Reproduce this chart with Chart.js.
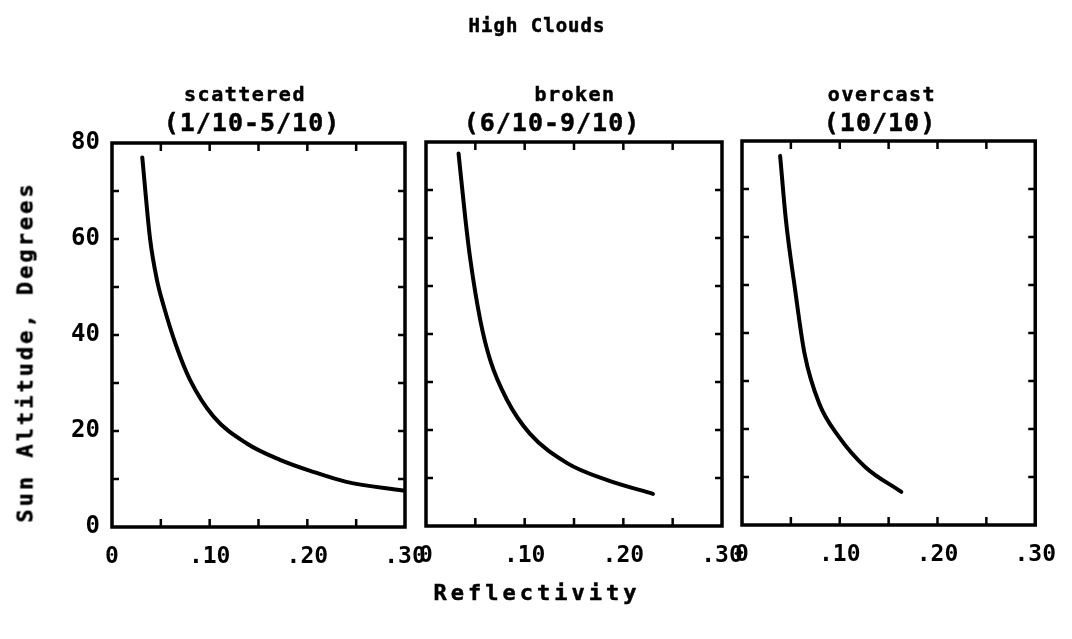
<!DOCTYPE html>
<html>
<head>
<meta charset="utf-8">
<script src="https://cdn.jsdelivr.net/npm/chart.js"></script>
<style>
  body { margin: 0; background: #fff; }
  #wrap { position: relative; width: 1072px; height: 639px; overflow: hidden; }
  #wrap canvas { position: absolute; left: 0; top: 0; }
  .lbl { position: absolute; transform: translate(-50%, -50%); white-space: nowrap;
         font-family: "DejaVu Sans Mono", monospace; font-weight: bold; color: #000;
         -webkit-text-stroke: 0.5px #000; }
</style>
</head>
<body>
<div id="wrap">
  <canvas id="p1" width="1072" height="639"></canvas>
  <canvas id="p2" width="1072" height="639"></canvas>
  <canvas id="p3" width="1072" height="639"></canvas>
  <div class="lbl" style="left:537px;top:25px;font-size:19px;letter-spacing:1px;">High Clouds</div>
  <div class="lbl" style="left:245px;top:94px;font-size:20px;letter-spacing:1.5px;">scattered</div>
  <div class="lbl" style="left:252px;top:122px;font-size:25px;letter-spacing:1px;">(1/10-5/10)</div>
  <div class="lbl" style="left:575px;top:94px;font-size:20px;letter-spacing:1.5px;">broken</div>
  <div class="lbl" style="left:552px;top:122px;font-size:25px;letter-spacing:1px;">(6/10-9/10)</div>
  <div class="lbl" style="left:882px;top:94px;font-size:20px;letter-spacing:1.5px;">overcast</div>
  <div class="lbl" style="left:880px;top:122px;font-size:25px;letter-spacing:1px;">(10/10)</div>
  <div class="lbl" style="left:25px;top:352px;font-size:22px;letter-spacing:3px;transform:translate(-50%,-50%) rotate(-90deg);">Sun Altitude, Degrees</div>
  <div class="lbl" style="left:537px;top:592px;font-size:22px;letter-spacing:4px;">Reflectivity</div>
</div>
<script>
// reflectivity (x) vs sun altitude in degrees (y)
const scatteredX = [0.031, 0.039, 0.046, 0.053, 0.066, 0.080, 0.104, 0.138, 0.172, 0.206, 0.240, 0.298];
const scatteredY = [77, 60, 51.5, 46, 37.6, 30.6, 23, 17.4, 14, 11.5, 9.4, 7.6];
const brokenX = [0.033, 0.040, 0.045, 0.055, 0.065, 0.082, 0.105, 0.143, 0.183, 0.230];
const brokenY = [77.6, 63.8, 55.4, 42.9, 34.6, 26.3, 19.3, 13.1, 9.6, 6.7];
const overcastX = [0.039, 0.045, 0.054, 0.064, 0.079, 0.099, 0.126, 0.163];
const overcastY = [76.9, 63.4, 49.5, 35.7, 25.3, 18.4, 12.1, 6.9];

const xTickValues = [0, 0.1, 0.2, 0.3];
const xTickLabels = ['0', '.10', '.20', '.30'];
const yTickValues = [0, 20, 40, 60, 80];
const yTickLabels = ['0', '20', '40', '60', '80'];

const FONT = '"DejaVu Sans Mono", monospace';

// box round the plot with little ticks pointing inwards
const frameTicks = {
  id: 'frameTicks',
  afterDraw(chart) {
    const { ctx, chartArea: a, scales: { x, y } } = chart;
    ctx.save();
    ctx.strokeStyle = '#000';
    ctx.lineWidth = 2.5;
    x.ticks.forEach(t => {
      const px = x.getPixelForValue(t.value);
      if (px < a.left + 3 || px > a.right - 3) return;
      ctx.beginPath();
      ctx.moveTo(px, a.bottom); ctx.lineTo(px, a.bottom - 8);
      ctx.moveTo(px, a.top); ctx.lineTo(px, a.top + 8);
      ctx.stroke();
    });
    y.ticks.forEach(t => {
      const py = y.getPixelForValue(t.value);
      if (py < a.top + 3 || py > a.bottom - 3) return;
      ctx.beginPath();
      ctx.moveTo(a.left, py); ctx.lineTo(a.left + 7, py);
      ctx.moveTo(a.right, py); ctx.lineTo(a.right - 7, py);
      ctx.stroke();
    });
    ctx.lineWidth = 3.5;
    ctx.strokeRect(a.left, a.top, a.right - a.left, a.bottom - a.top);
    ctx.restore();
  }
};

function pickLabel(values, labels, v) {
  const i = values.findIndex(w => Math.abs(w - v) < 1e-6);
  return i < 0 ? '' : labels[i];
}

function makePanel(id, xs, ys, box, showY) {
  const pts = xs.map((v, i) => ({ x: v, y: ys[i] }));
  new Chart(document.getElementById(id), {
    type: 'scatter',
    data: {
      datasets: [{
        data: pts,
        showLine: true,
        borderColor: '#000',
        borderWidth: 4,
        borderCapStyle: 'round',
        pointRadius: 0,
        cubicInterpolationMode: 'monotone'
      }]
    },
    options: {
      responsive: false,
      animation: false,
      layout: {
        padding: { left: box.l - 60, right: 1072 - box.r, top: box.t, bottom: 639 - box.b - 50 }
      },
      plugins: { legend: { display: false }, tooltip: { enabled: false } },
      scales: {
        x: {
          type: 'linear', min: 0, max: 0.3,
          afterFit: s => { s.height = 50; },
          grid: { display: false, drawTicks: false },
          border: { display: false },
          ticks: {
            stepSize: 0.05, autoSkip: false, maxRotation: 0, padding: 16,
            color: '#000', font: { family: FONT, size: 23, weight: 'bold' },
            callback: v => pickLabel(xTickValues, xTickLabels, v)
          }
        },
        y: {
          type: 'linear', min: 0, max: 80,
          afterFit: s => { s.width = 60; },
          grid: { display: false, drawTicks: false },
          border: { display: false },
          ticks: {
            stepSize: 10, autoSkip: false, padding: 12,
            color: '#000', font: { family: FONT, size: 24, weight: 'bold' },
            callback: v => showY ? pickLabel(yTickValues, yTickLabels, v) : ''
          }
        }
      }
    },
    plugins: [frameTicks]
  });
}

makePanel('p1', scatteredX, scatteredY, { l: 112, r: 405, t: 143, b: 527 }, true);
makePanel('p2', brokenX, brokenY, { l: 426, r: 722, t: 142, b: 526 }, false);
makePanel('p3', overcastX, overcastY, { l: 742, r: 1038, t: 141, b: 525 }, false);
</script>
</body>
</html>
